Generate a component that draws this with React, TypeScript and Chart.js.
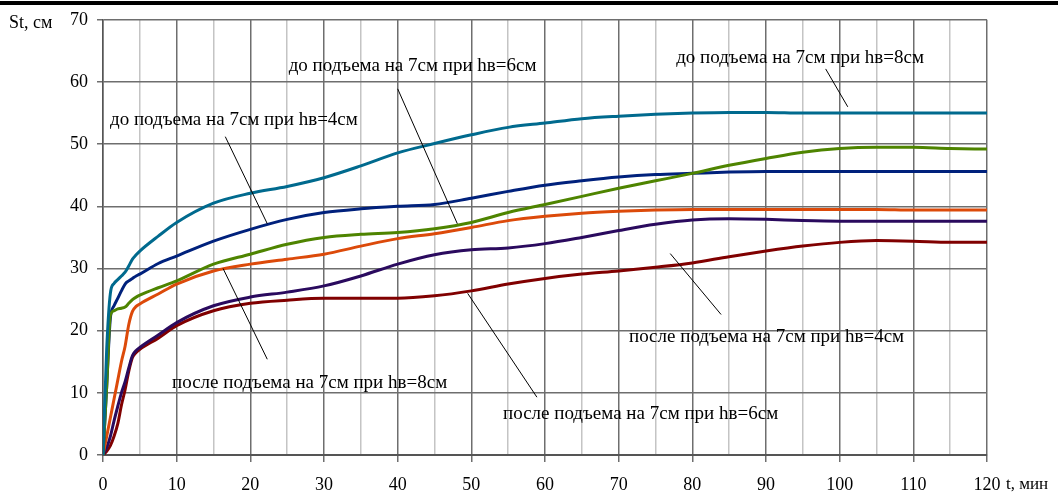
import React, { useEffect, useRef } from "react";
import { Chart, registerables } from "chart.js";

Chart.register(...registerables);

const T = [0, 0.5, 1, 1.5, 2, 2.5, 3, 3.5, 4, 4.5, 5, 7.5, 10, 15, 20, 25, 30, 35, 40, 45, 50, 55, 60, 65, 70, 75, 80, 85, 90, 95, 100, 105, 110, 115, 120];

const beforeHb8 = [0, 17, 26, 27.6, 28.2, 28.8, 29.4, 30.4, 31.5, 32.2, 32.8, 35.2, 37.4, 40.5, 42.1, 43.2, 44.6, 46.5, 48.6, 50.1, 51.5, 52.7, 53.4, 54.1, 54.5, 54.8, 55, 55.1, 55.1, 55, 55, 55, 55, 55, 55];
const beforeHb4 = [0, 11, 22, 24, 25.2, 26.4, 27.5, 28, 28.4, 28.8, 29.1, 30.8, 32, 34.4, 36.3, 37.9, 39, 39.6, 40, 40.3, 41.3, 42.4, 43.4, 44.1, 44.7, 45.1, 45.3, 45.5, 45.6, 45.6, 45.6, 45.6, 45.6, 45.6, 45.6];
const beforeHb6 = [0, 11, 22.5, 23.2, 23.5, 23.6, 23.8, 24.4, 25, 25.4, 25.7, 26.9, 28, 30.7, 32.3, 33.9, 35, 35.5, 35.8, 36.4, 37.4, 39, 40.3, 41.6, 42.9, 44.1, 45.3, 46.6, 47.7, 48.7, 49.3, 49.5, 49.5, 49.3, 49.2];
const afterHb8 = [0, 3, 6, 9, 12, 15, 17.5, 21, 23.1, 23.9, 24.3, 25.9, 27.5, 29.6, 30.7, 31.5, 32.3, 33.6, 34.8, 35.6, 36.6, 37.7, 38.4, 38.9, 39.2, 39.4, 39.5, 39.5, 39.5, 39.5, 39.5, 39.5, 39.4, 39.4, 39.4];
const afterHb4 = [0, 1.2, 3, 5.5, 7.8, 10, 11.8, 14, 16, 16.8, 17.3, 19.3, 21.3, 24, 25.4, 26.2, 27.2, 28.8, 30.7, 32.2, 33, 33.3, 34, 35, 36.1, 37.1, 37.8, 38, 37.9, 37.7, 37.6, 37.6, 37.6, 37.6, 37.6];
const afterHb6 = [0, 0.6, 1.5, 3, 5, 8, 10.5, 13.5, 15.7, 16.5, 17, 18.8, 20.8, 23.2, 24.4, 24.9, 25.2, 25.2, 25.2, 25.6, 26.4, 27.5, 28.4, 29.1, 29.6, 30.2, 30.9, 31.9, 32.8, 33.6, 34.2, 34.5, 34.4, 34.2, 34.2];

const seriesLabels = [
  "до подъема на 7см при hв=8см",
  "до подъема на 7см при hв=6см",
  "до подъема на 7см при hв=4см",
  "после подъема на 7см при hв=8см",
  "после подъема на 7см при hв=4см",
  "после подъема на 7см при hв=6см",
];

// annotation placement in data units: text anchor [t, value], pointer [t1, v1, t2, v2]
const labelAnchors = [
  [77.8, 63.9],
  [25.2, 62.6],
  [0.95, 53.9],
  [9.37, 11.6],
  [71.4, 18.9],
  [54.3, 6.6],
];
const pointerLines = [
  [98.1, 62.1, 101.1, 56.0],
  [40.0, 58.9, 48.1, 37.2],
  [16.6, 51.2, 22.3, 37.2],
  [16.3, 30.0, 22.3, 15.4],
  [77.0, 32.4, 83.9, 22.6],
  [49.5, 26.0, 58.9, 9.3],
];

const yTitle = "St, см";
const xTitle = "t, мин";
const FONT = "'Liberation Serif', 'Times New Roman', serif";

const toPts = (vals: number[]) => vals.map((v, i) => ({ x: T[i], y: v }));

const annotPlugin = {
  id: "annot",
  afterDatasetsDraw(chart: any) {
    const { ctx } = chart;
    const xs = chart.scales.x;
    const ys = chart.scales.y;
    ctx.save();
    ctx.fillStyle = "#000";
    ctx.fillRect(0, 1, chart.width, 4);
    ctx.strokeStyle = "#000";
    ctx.lineWidth = 1;
    pointerLines.forEach((p) => {
      ctx.beginPath();
      ctx.moveTo(xs.getPixelForValue(p[0]), ys.getPixelForValue(p[1]));
      ctx.lineTo(xs.getPixelForValue(p[2]), ys.getPixelForValue(p[3]));
      ctx.stroke();
    });
    ctx.font = `19px ${FONT}`;
    ctx.textBaseline = "middle";
    ctx.textAlign = "left";
    labelAnchors.forEach((a, i) => {
      ctx.fillText(seriesLabels[i], xs.getPixelForValue(a[0]), ys.getPixelForValue(a[1]));
    });
    ctx.font = `18px ${FONT}`;
    ctx.fillText(yTitle, 9, ys.getPixelForValue(70) + 3);
    ctx.font = `17px ${FONT}`;
    ctx.fillText(xTitle, 1006, xs.bottom - 10);
    ctx.restore();
  },
};

export default function App() {
  const ref = useRef<HTMLCanvasElement | null>(null);
  useEffect(() => {
    if (!ref.current) return;
    const colors = ["#006a8e", "#4e8400", "#00217c", "#dc4a0a", "#2a0a5e", "#800000"];
    const data = [beforeHb8, beforeHb6, beforeHb4, afterHb8, afterHb4, afterHb6];
    const chart = new Chart(ref.current, {
      type: "line",
      data: {
        datasets: data.map((d, i) => ({
          label: seriesLabels[i],
          data: toPts(d),
          borderColor: colors[i],
          borderWidth: 3,
          pointRadius: 0,
          fill: false,
          cubicInterpolationMode: "monotone" as const,
        })),
      },
      options: {
        animation: false,
        responsive: false,
        layout: { padding: { top: 19, right: 71, left: 0, bottom: 0 } },
        plugins: { legend: { display: false }, tooltip: { enabled: false } },
        scales: {
          x: {
            type: "linear",
            min: 0,
            max: 120,
            afterFit: (s: any) => { s.height = 40; },
            ticks: {
              stepSize: 5,
              autoSkip: false,
              maxRotation: 0,
              padding: 12,
              color: "#000",
              font: { family: FONT, size: 18 },
              callback: (v: any) => (Number(v) % 10 === 0 ? String(v) : ""),
            },
            grid: {
              color: (c: any) => (c.tick && c.tick.value % 10 === 0 ? "#6e6e6e" : "#c4c4c4"),
              tickColor: (c: any) => (c.tick && c.tick.value % 10 === 0 ? "#6e6e6e" : "rgba(0,0,0,0)"),
              lineWidth: 1.5,
              tickLength: 7,
            },
            border: { color: "#555", width: 2 },
          },
          y: {
            min: 0,
            max: 70,
            afterFit: (s: any) => { s.width = 103; },
            ticks: {
              stepSize: 10,
              padding: 9,
              color: "#000",
              font: { family: FONT, size: 18 },
            },
            grid: { color: "#6e6e6e", lineWidth: 1.5, tickLength: 6 },
            border: { color: "#555", width: 1.5 },
          },
        },
      },
      plugins: [annotPlugin],
    });
    return () => chart.destroy();
  }, []);
  return (
    <div style={{ position: "absolute", left: 0, top: 0, width: 1058, height: 495, background: "#fff" }}>
      <canvas ref={ref} width={1058} height={495} style={{ display: "block" }} />
    </div>
  );
}
